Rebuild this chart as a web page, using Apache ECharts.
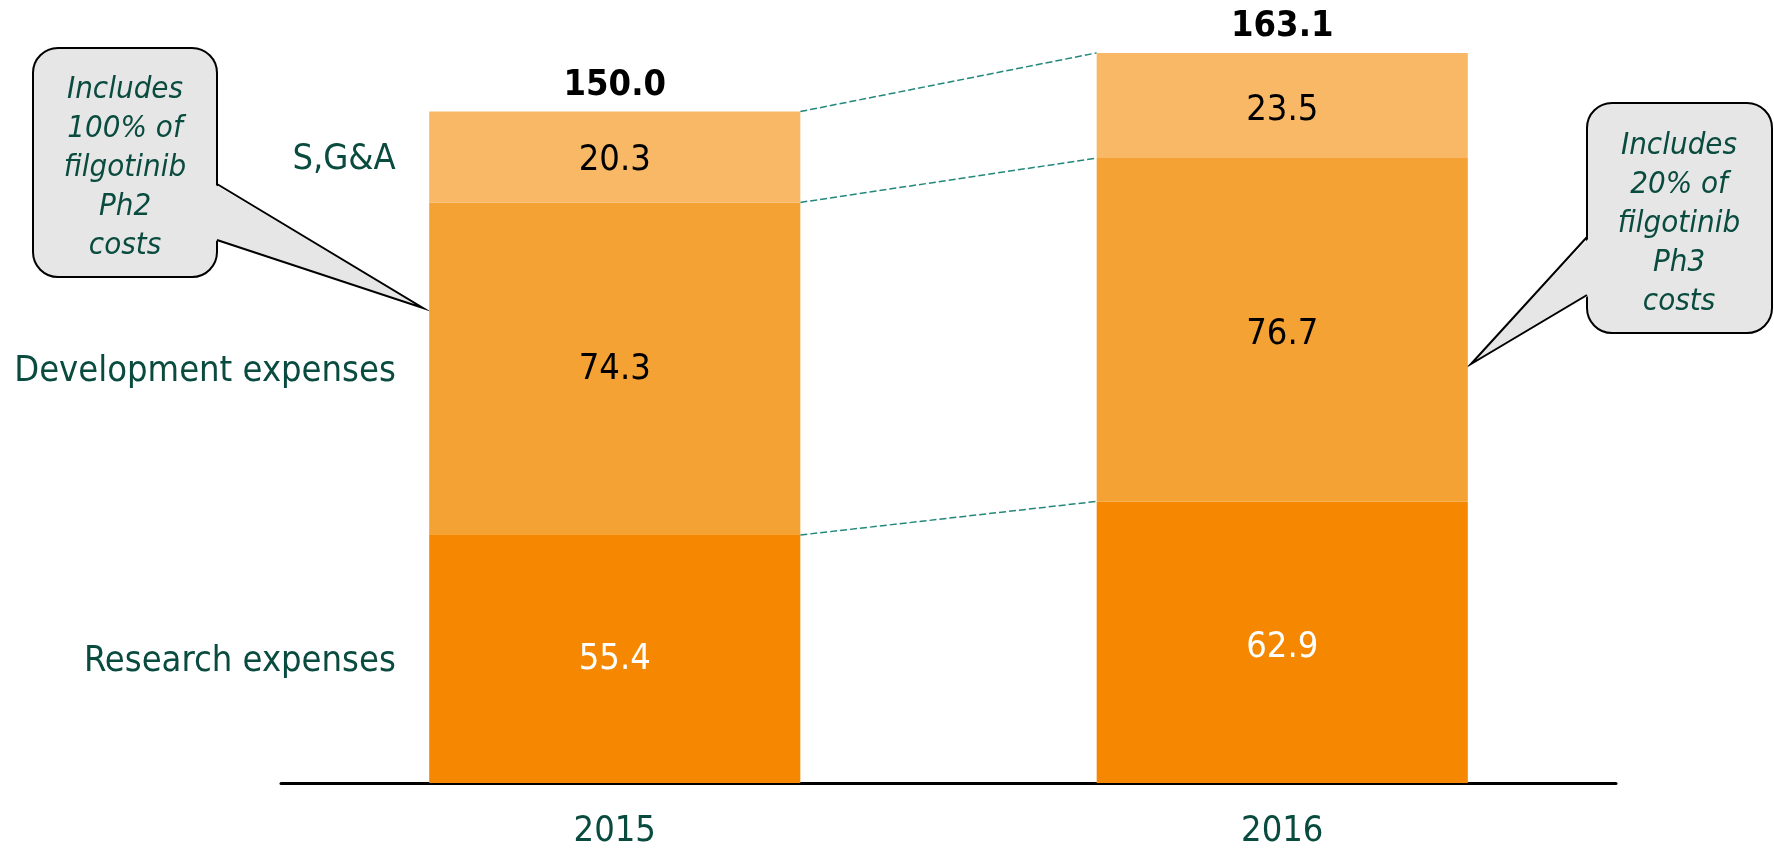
<!DOCTYPE html>
<html>
<head>
<meta charset="utf-8">
<script src="https://cdn.jsdelivr.net/npm/echarts@6/dist/echarts.min.js"></script>
<style>
  html, body { margin: 0; padding: 0; background: #fff; }
  #chart { width: 1774px; height: 850px; }
</style>
</head>
<body>
<div id="chart"></div>
<script>
// data
const years = ["2015", "2016"];
const research = [55.4, 62.9];
const development = [74.3, 76.7];
const sga = [20.3, 23.5];
const totals = [150.0, 163.1];
const seriesNames = ["Research expenses", "Development expenses", "S,G&A"];

const FONT = '"DejaVu Sans Condensed", "DejaVu Sans", sans-serif';
const GREEN = "#0a4b3f";
const BAR_W = 0.556;

const layers = [research, development, sga];
const colors = ["#F58800", "#F5A234", "#F8B866"];
const labelColors = ["#fff", "#000", "#000"];
// small vertical nudges of the value labels, per year
const labelNudge = [[1, 1, 4], [5, 5, 5]];

// running bottoms of each layer
const bottoms = layers.map((arr, i) =>
  arr.map((v, j) => layers.slice(0, i).reduce((s, a) => s + a[j], 0))
);

// boundaries between years for the dashed connectors
const connectors = [];
layers.forEach((arr, i) => {
  connectors.push([0, bottoms[i][0] + arr[0], bottoms[i][1] + arr[1]]);
});

function barSeries(i) {
  return {
    name: seriesNames[i],
    type: "bar",
    stack: "total",
    barWidth: BAR_W * 100 + "%",
    data: layers[i].map((v, j) => ({
      value: v,
      label: { offset: [0, labelNudge[j][i]] },
    })),
    itemStyle: { color: colors[i] },
    label: {
      show: true,
      position: "inside",
      color: labelColors[i],
      fontSize: 36,
      fontFamily: FONT,
      formatter: (p) => p.value.toFixed(1),
    },
    markPoint: {
      symbol: "circle",
      symbolSize: 0,
      silent: true,
      label: {
        show: true,
        position: "inside",
        align: "right",
        offset: [-219, 3],
        color: GREEN,
        fontSize: 36,
        fontFamily: FONT,
        formatter: seriesNames[i],
      },
      data: [{ coord: [0, bottoms[i][0] + layers[i][0] / 2] }],
    },
  };
}

const series = [barSeries(0), barSeries(1), barSeries(2)];

// totals on top
series.push({
  type: "scatter",
  data: totals.map((v, j) => [j, v]),
  symbolSize: 0,
  silent: true,
  itemStyle: { opacity: 1 },
  label: {
    show: true,
    position: "top",
    distance: 8,
    color: "#000",
    opacity: 1,
    fontWeight: "bold",
    fontSize: 36,
    fontFamily: FONT,
    formatter: (p) => p.value[1].toFixed(1),
  },
});

// dashed connectors between bar edges
series.push({
  type: "custom",
  silent: true,
  encode: { x: 0, y: [1, 2] },
  data: connectors,
  renderItem: function (params, api) {
    const bw = api.size([1, 0])[0] * BAR_W;
    const p0 = api.coord([0, api.value(1)]);
    const p1 = api.coord([1, api.value(2)]);
    return {
      type: "line",
      shape: { x1: p0[0] + bw / 2, y1: p0[1], x2: p1[0] - bw / 2, y2: p1[1] },
      style: { stroke: "#22887b", lineWidth: 1.5, lineDash: [7, 3] },
    };
  },
});

const calloutText = {
  fill: GREEN,
  fontSize: 31,
  fontStyle: "italic",
  fontFamily: FONT,
  align: "center",
  verticalAlign: "middle",
  lineHeight: 39,
};

// speech bubble: rounded box + wedge pointing at a bar
function bubble(box, base1, tip, base2, inward) {
  return [
    {
      type: "rect",
      shape: { x: box[0], y: box[1], width: box[2], height: box[3], r: 25 },
      style: { fill: "#e6e6e6", stroke: "#000", lineWidth: 2 },
    },
    {
      type: "polygon",
      shape: { points: [[base1[0] + inward, base1[1]], tip, [base2[0] + inward, base2[1]]] },
      style: { fill: "#e6e6e6" },
    },
    {
      type: "polyline",
      shape: { points: [base1, tip, base2] },
      style: { stroke: "#000", lineWidth: 2, fill: null },
    },
  ];
}

const graphics = []
  .concat(bubble([33, 48, 184, 229], [217, 184], [423, 308], [217, 240], -3))
  .concat(bubble([1587, 103, 185, 230], [1587, 237], [1471, 364], [1587, 295], 3));

graphics.push({
  type: "text",
  x: 125,
  y: 168,
  style: Object.assign({ text: "Includes\n100% of\nfilgotinib\nPh2\ncosts" }, calloutText),
});
graphics.push({
  type: "text",
  x: 1679,
  y: 224,
  style: Object.assign({ text: "Includes\n20% of\nfilgotinib\nPh3\ncosts" }, calloutText),
});

const option = {
  animation: false,
  grid: { left: 281, right: 158, top: 22, bottom: 65 },
  xAxis: {
    type: "category",
    data: years,
    axisLine: { lineStyle: { color: "#000", width: 3 } },
    axisTick: { show: false },
    axisLabel: { color: GREEN, fontSize: 36, fontFamily: FONT, margin: 31 },
  },
  yAxis: {
    type: "value",
    min: 0,
    max: 170,
    show: false,
    splitLine: { show: false },
  },
  series: series,
  graphic: graphics,
};

const myChart = echarts.init(document.getElementById("chart"));
myChart.setOption(option);
</script>
</body>
</html>
